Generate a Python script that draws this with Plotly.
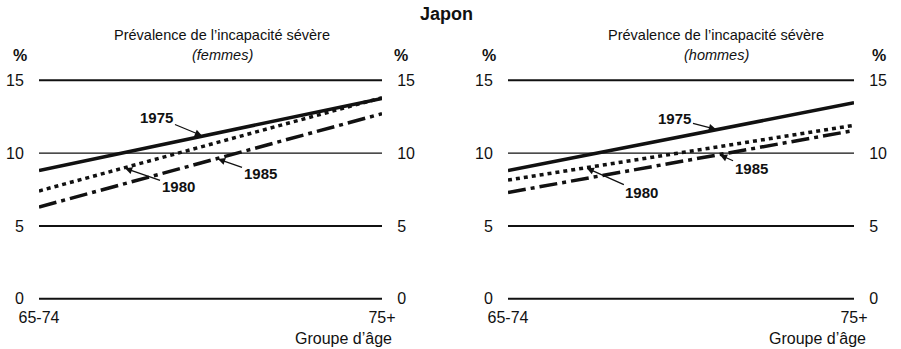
import plotly.graph_objects as go

# ---- data ----
age_groups = ["65-74", "75+"]
years = ["1975", "1980", "1985"]
femmes = {"1975": [8.8, 13.75], "1980": [7.4, 13.8], "1985": [6.3, 12.7]}
hommes = {"1975": [8.8, 13.45], "1980": [8.15, 11.9], "1985": [7.3, 11.55]}
y_ticks = [0, 5, 10, 15]

FONT = "Liberation Sans Narrow, Arial Narrow, Liberation Sans, Arial, sans-serif"
styles = {
    "1975": dict(color="#111", width=3.5, dash="solid"),
    "1980": dict(color="#111", width=3.5, dash="4px,4px"),
    "1985": dict(color="#111", width=3.5, dash="18px,5px,4px,5px"),
}

fig = go.Figure()
xs = [0, 1]
panels = [("x", "y", "y3", femmes), ("x2", "y2", "y4", hommes)]
for xa, ya, yr, data in panels:
    for yr_name in years:
        fig.add_trace(go.Scatter(x=xs, y=data[yr_name], mode="lines", line=styles[yr_name],
                                 xaxis=xa, yaxis=ya, showlegend=False, hoverinfo="skip"))
    fig.add_trace(go.Scatter(x=xs, y=[0, 15], mode="lines", line=dict(width=0), opacity=0,
                             xaxis=xa, yaxis=yr, showlegend=False, hoverinfo="skip"))

W, H = 901, 349
T, B = 78, 48
YR = [-0.15, 15.15]
dom1 = [39 / W, 382 / W]
dom2 = [508 / W, 854 / W]
tickfont = dict(family=FONT, size=16, color="#111")
xcommon = dict(range=[0, 1], tickvals=xs, ticktext=age_groups, showgrid=False, zeroline=False,
               showline=False, ticks="outside", ticklen=2, tickcolor="rgba(0,0,0,0)",
               tickfont=dict(family=FONT, size=16, color="#111"), fixedrange=True)
ycommon = dict(range=YR, tickvals=y_ticks, showgrid=False, zeroline=False, showline=False,
               ticks="outside", ticklen=11, tickcolor="rgba(0,0,0,0)", tickfont=tickfont,
               fixedrange=True)
fig.update_layout(
    width=W, height=H, margin=dict(l=0, r=0, t=T, b=B, autoexpand=False),
    paper_bgcolor="white", plot_bgcolor="white",
    xaxis=dict(domain=dom1, anchor="y", **xcommon),
    xaxis2=dict(domain=dom2, anchor="y2", **xcommon),
    yaxis=dict(anchor="x", side="left", **ycommon),
    yaxis2=dict(anchor="x2", side="left", **ycommon),
    yaxis3=dict(anchor="x", overlaying="y", side="right", **ycommon),
    yaxis4=dict(anchor="x2", overlaying="y2", side="right", **ycommon),
)

shapes = []
for xr, yr in [("x", "y"), ("x2", "y2")]:
    for t in y_ticks:
        shapes.append(dict(type="line", xref=f"{xr} domain", yref=yr, x0=0, x1=1, y0=t, y1=t,
                           line=dict(color="#111", width=1.2 if t == 10 else 2), layer="below"))
fig.update_layout(shapes=shapes)


def py(p):
    return (H - B - p) / (H - T - B)


def px(p):
    return p / W


def txt(text, x, y, size, xanchor="center"):
    return dict(text=text, x=px(x), y=py(y), xref="paper", yref="paper", showarrow=False,
                xanchor=xanchor, yanchor="middle", font=dict(family=FONT, size=size, color="#111"))


ann = [txt("<b>Japon</b>", 446, 14, 18)]
for cx, sub in [(222, "femmes"), (716, "hommes")]:
    ann.append(txt("Prévalence de l’incapacité sévère", cx, 35, 14.5))
    ann.append(txt(f"<i>({sub})</i>", cx, 55, 14.5))
for cx in [20, 401, 489, 879]:
    ann.append(txt("<b>%</b>", cx, 56, 16))
for rx in [394, 868]:
    ann.append(txt("Groupe d’âge", rx, 338, 16, xanchor="right"))

labels = [
    ("x", "y", femmes, "1975", 0.478, -46, -19),
    ("x", "y", femmes, "1980", 0.248, 54, 19),
    ("x", "y", femmes, "1985", 0.519, 43, 15),
    ("x2", "y2", hommes, "1975", 0.604, -42, -11),
    ("x2", "y2", hommes, "1980", 0.225, 56, 25),
    ("x2", "y2", hommes, "1985", 0.61, 32, 14),
]
for xa, ya, data, yname, f, ax, ay in labels:
    v = data[yname]
    yv = v[0] + (v[1] - v[0]) * f
    ann.append(dict(text=f"<b>{yname}</b>", x=f, y=yv, xref=xa, yref=ya, ax=ax, ay=ay,
                    showarrow=True, arrowhead=2, arrowsize=1.1, arrowwidth=1.3, arrowcolor="#111",
                    standoff=1, startstandoff=0,
                    font=dict(family=FONT, size=15, color="#111")))
fig.update_layout(annotations=ann)

fig.write_html("out.html", config={"displayModeBar": False},
               post_script="document.body.style.margin='0';document.body.style.overflow='hidden';")
